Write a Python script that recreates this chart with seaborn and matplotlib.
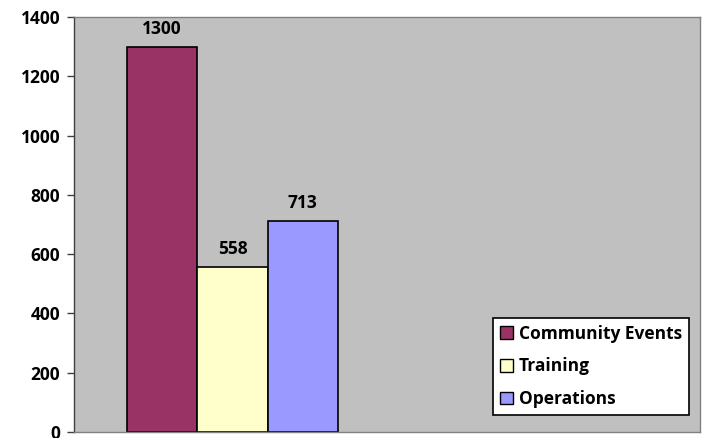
import pandas as pd
import seaborn as sns
from matplotlib import pyplot as plt

category = ["Total"]
series = ["Community Events", "Training", "Operations"]
values = [1300, 558, 713]
colors = ["#993366", "#FFFFCC", "#9999FF"]

sns.set_style("white")
plt.rcParams["font.family"] = ["Open Sans", "DejaVu Sans"]
plt.rcParams["font.weight"] = "bold"
plt.rcParams["text.color"] = "black"
plt.rcParams["ytick.labelcolor"] = "black"

data = pd.DataFrame({"cat": category * len(series), "series": series, "value": values})

fig = plt.figure(figsize=(7.03, 4.38), dpi=100)
ax = fig.add_axes([74 / 703, 1 - 432 / 438, 626 / 703, 415 / 438])
ax.set_facecolor("#C0C0C0")

sns.barplot(data=data, x="cat", y="value", hue="series", palette=colors,
            edgecolor="black", linewidth=1.2, width=0.8, saturation=1, ax=ax)

for cont in ax.containers:
    ax.bar_label(cont, padding=6, fontsize=12.5, fontweight="bold", color="black")

ax.set_xlim(-0.601, 1.7725)
ax.set_ylim(0, 1400)
ax.set_yticks(range(0, 1401, 200))
ax.set_xticks([])
ax.set_xlabel("")
ax.set_ylabel("")
ax.tick_params(axis="y", direction="out", length=5, width=1, color="#404040",
               labelsize=12.5, labelcolor="black", pad=5, left=True)
for lab in ax.get_yticklabels():
    lab.set_fontweight("bold")
for side in ["top", "right", "bottom"]:
    ax.spines[side].set_color("#808080")
    ax.spines[side].set_linewidth(1)
ax.spines["left"].set_color("#404040")
ax.spines["left"].set_linewidth(1)

leg = ax.legend(loc="lower right", bbox_to_anchor=(0.982, 0.041), frameon=True,
                fancybox=False, edgecolor="black", facecolor="white", framealpha=1,
                handlelength=0.75, handleheight=0.75, handletextpad=0.35,
                labelspacing=0.85, borderpad=0.4, borderaxespad=0,
                prop={"size": 12.5, "weight": "bold"})
leg.get_frame().set_linewidth(1.2)
for h in leg.legend_handles:
    h.set_edgecolor("black")
    h.set_linewidth(1)
for t in leg.get_texts():
    t.set_color("black")

fig.savefig("out.png", dpi=100, facecolor="white")
